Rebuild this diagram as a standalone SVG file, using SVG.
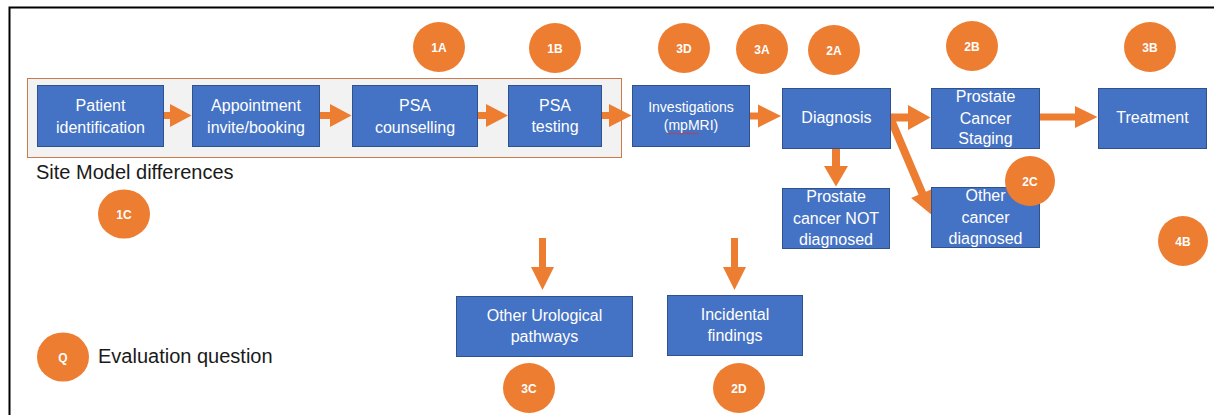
<svg xmlns="http://www.w3.org/2000/svg" width="1214" height="415" viewBox="0 0 1214 415">
<style>
.box{fill:#4472c4;stroke:#2f528f;stroke-width:1}
.bt{font-family:"Liberation Sans",Arial,sans-serif;font-size:16px;fill:#ffffff;text-anchor:middle}
.sm{font-size:14px}
.arr{fill:#ed7d31}
.q{fill:#ed7d31}
.qt{font-family:"Liberation Sans",Arial,sans-serif;font-size:12px;font-weight:bold;fill:#ffffff;text-anchor:middle}
.lbl{font-family:"Liberation Sans",Arial,sans-serif;font-size:20px;fill:#1a1a1a}
</style>
<rect x="0" y="0" width="1214" height="415" fill="#ffffff"/>
<path d="M9.5,415 V7.5 H1214" fill="none" stroke="#000000" stroke-width="2"/>
<g id="site-model">
<rect x="27.5" y="78.5" width="594" height="79" fill="#f2f2f2" stroke="#c9794a" stroke-width="1"/>
<text class="lbl" x="36" y="179">Site Model differences</text>
</g>
<g id="connectors">
<polygon class="arr" points="163,112 170,112 170,104 191.5,115.5 170,127 170,119 163,119"/>
<polygon class="arr" points="319,112 330,112 330,104 351.5,115.5 330,127 330,119 319,119"/>
<polygon class="arr" points="477,112 486,112 486,104 508,115.5 486,127 486,119 477,119"/>
<polygon class="arr" points="601,112 609,112 609,104 631.5,115.5 609,127 609,119 601,119"/>
<polygon class="arr" points="749,112.5 758,112.5 758,104.5 781,116 758,127.5 758,119.5 749,119.5"/>
<polygon class="arr" points="888,113.5 908,113.5 908,105 930.5,117.5 908,130 908,121.5 888,121.5"/>
<polygon class="arr" points="1039,113.5 1075,113.5 1075,106 1097.5,117 1075,128 1075,120.5 1039,120.5"/>
<polygon class="arr" points="832,148 840,148 840,166 848,166 836,186.5 824,166 832,166"/>
<polygon class="arr" points="539,238 546,238 546,267 554,267 542.5,290 531,267 539,267"/>
<polygon class="arr" points="731,238 738,238 738,267 746,267 734.5,290 723,267 731,267"/>
<g transform="translate(889,115) rotate(-23)">
<polygon class="arr" points="-4,0 4,0 4,85 12,85 0,108 -12,85 -4,85"/>
</g>
</g>
<g id="n-patient">
<rect class="box" x="37.5" y="85.5" width="126" height="61"/>
<text class="bt" x="100.5" y="111">Patient</text>
<text class="bt" x="100.5" y="133">identification</text>
</g>
<g id="n-appointment">
<rect class="box" x="192.5" y="85.5" width="127" height="61"/>
<text class="bt" x="256" y="111">Appointment</text>
<text class="bt" x="256" y="133">invite/booking</text>
</g>
<g id="n-counselling">
<rect class="box" x="352.5" y="85.5" width="125" height="61"/>
<text class="bt" x="415" y="111">PSA</text>
<text class="bt" x="415" y="133">counselling</text>
</g>
<g id="n-testing">
<rect class="box" x="508.5" y="85.5" width="93" height="61"/>
<text class="bt" x="555" y="111">PSA</text>
<text class="bt" x="555" y="132">testing</text>
</g>
<g id="n-investigations">
<rect class="box" x="632.5" y="85.5" width="117" height="61"/>
<text class="bt sm" x="691" y="111.5">Investigations</text>
<text class="bt sm" x="691" y="130">(mpMRI)</text>
<path d="M667,133.5 q1,-1.2 2,0 t2,0 t2,0 t2,0 t2,0 t2,0 t2,0 t2,0 t2,0 t2,0 t2,0 t2,0 t2,0 t2,0 t2,0 t2,0" fill="none" stroke="#e03030" stroke-width="0.8"/>
</g>
<g id="n-diagnosis">
<rect class="box" x="782.5" y="88.5" width="108" height="60"/>
<text class="bt" x="836.5" y="122.5">Diagnosis</text>
</g>
<g id="n-staging">
<rect class="box" x="931.5" y="88.5" width="108" height="60"/>
<text class="bt" x="985.5" y="102">Prostate</text>
<text class="bt" x="985.5" y="123.5">Cancer</text>
<text class="bt" x="985.5" y="144">Staging</text>
</g>
<g id="n-treatment">
<rect class="box" x="1098.5" y="88.5" width="108" height="60"/>
<text class="bt" x="1152.5" y="122.5">Treatment</text>
</g>
<g id="n-not-diagnosed">
<rect class="box" x="782.5" y="188.5" width="107" height="60"/>
<text class="bt" x="836" y="202">Prostate</text>
<text class="bt" x="836" y="223.5">cancer NOT</text>
<text class="bt" x="836" y="244.5">diagnosed</text>
</g>
<g id="n-other-cancer">
<rect class="box" x="931.5" y="187.5" width="108" height="60"/>
<text class="bt" x="985.5" y="201">Other</text>
<text class="bt" x="985.5" y="223">cancer</text>
<text class="bt" x="985.5" y="243.5">diagnosed</text>
</g>
<g id="n-urological">
<rect class="box" x="456.5" y="296.5" width="176" height="60"/>
<text class="bt" x="544.5" y="321">Other Urological</text>
<text class="bt" x="544.5" y="342">pathways</text>
</g>
<g id="n-incidental">
<rect class="box" x="667.5" y="295.5" width="135" height="60"/>
<text class="bt" x="735" y="319.5">Incidental</text>
<text class="bt" x="735" y="341">findings</text>
</g>
<g id="q-1A"><ellipse class="q" cx="439" cy="47" rx="26" ry="25"/><text class="qt" x="439" y="51.5">1A</text></g>
<g id="q-1B"><ellipse class="q" cx="555" cy="48" rx="26" ry="25"/><text class="qt" x="555" y="52.5">1B</text></g>
<g id="q-3D"><ellipse class="q" cx="684" cy="48" rx="26" ry="25"/><text class="qt" x="684" y="52.5">3D</text></g>
<g id="q-3A"><ellipse class="q" cx="762" cy="49" rx="26" ry="25"/><text class="qt" x="762" y="53.5">3A</text></g>
<g id="q-2A"><ellipse class="q" cx="834" cy="50" rx="26" ry="25"/><text class="qt" x="834" y="54.5">2A</text></g>
<g id="q-2B"><ellipse class="q" cx="972" cy="46" rx="26" ry="25"/><text class="qt" x="972" y="50.5">2B</text></g>
<g id="q-3B"><ellipse class="q" cx="1150" cy="47" rx="26" ry="25"/><text class="qt" x="1150" y="51.5">3B</text></g>
<g id="q-1C"><ellipse class="q" cx="124" cy="214" rx="26" ry="24.5"/><text class="qt" x="124" y="218.5">1C</text></g>
<g id="q-2C"><ellipse class="q" cx="1030" cy="181" rx="25" ry="25"/><text class="qt" x="1030" y="185.5">2C</text></g>
<g id="q-4B"><ellipse class="q" cx="1183" cy="241" rx="25" ry="25"/><text class="qt" x="1183" y="245.5">4B</text></g>
<g id="q-3C"><ellipse class="q" cx="529" cy="388" rx="26" ry="25"/><text class="qt" x="529" y="392.5">3C</text></g>
<g id="q-2D"><ellipse class="q" cx="739" cy="388" rx="26" ry="25"/><text class="qt" x="739" y="392.5">2D</text></g>
<g id="legend">
<ellipse class="q" cx="63" cy="357" rx="26" ry="24.5"/>
<text class="qt" x="63" y="361.5">Q</text>
<text class="lbl" x="98" y="363">Evaluation question</text>
</g>
</svg>
